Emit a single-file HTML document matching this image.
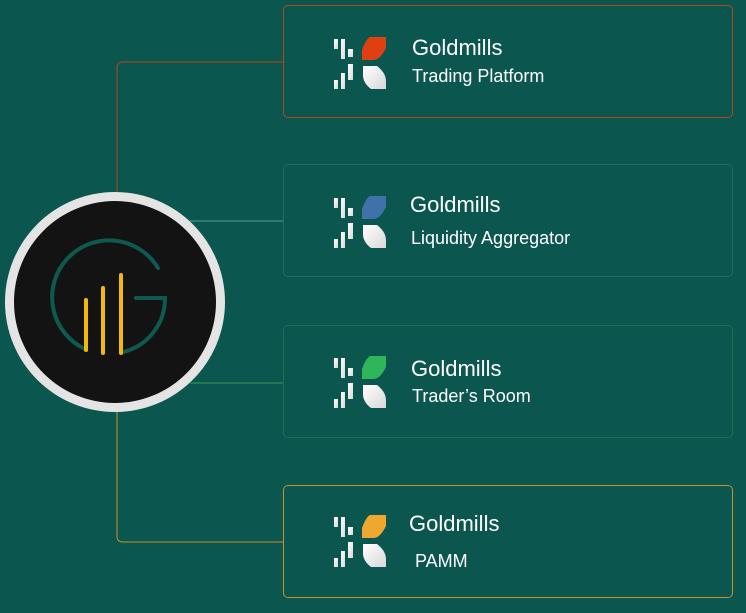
<!DOCTYPE html>
<html><head><style>
html,body{margin:0;padding:0}
body{width:746px;height:613px;background:#0b564e;position:relative;overflow:hidden;font-family:"Liberation Sans",sans-serif}
.box{position:absolute;left:283px;width:450px;height:113px;border:1px solid;border-radius:5px;box-sizing:border-box}
.t{position:absolute;color:#fff;white-space:nowrap}
.g{font-size:22px}
.s{font-size:18px}
svg{position:absolute;left:0;top:0}
</style></head><body>
<svg width="746" height="613">
<defs>
<linearGradient id="w" x1="0" y1="0" x2="1" y2="1"><stop offset="0" stop-color="#fff"/><stop offset="1" stop-color="#d8d8d8"/></linearGradient>
<g id="ic">
<rect x="0" y="2" width="4" height="10" fill="url(#w)"/>
<rect x="7" y="2" width="4" height="20" fill="url(#w)"/>
<rect x="14" y="12" width="5" height="8" fill="url(#w)"/>
<rect x="0" y="43" width="4" height="9" fill="url(#w)"/>
<rect x="7" y="36" width="4" height="16" fill="url(#w)"/>
<rect x="14" y="27" width="5" height="16" fill="url(#w)"/>
<path d="M29,29 H43 Q52,36 52,44 V52 H37 Q29,46 29,38 Z" fill="url(#w)"/>
</g>
</defs>
<g fill="none" stroke-width="1">
<path d="M283,62 H123 Q117,62 117,68 V200" stroke="#b04a1c"/>
<path d="M117,400 V536 Q117,542 123,542 H283" stroke="#c8902a"/>
<path d="M190,221 H283" stroke="#5a9a8a"/>
<path d="M190,383 H283" stroke="#3f9a5a"/>
</g>
<circle cx="115" cy="302" r="110" fill="#e4e4e4"/>
<circle cx="115" cy="302" r="101" fill="#131313"/>
<path d="M85,349 A57,57 0 1 1 158,268" fill="none" stroke="#0f5a4e" stroke-width="4" stroke-linecap="round"/>
<path d="M136,298 H165 A55,55 0 0 1 123,352" fill="none" stroke="#0f5a4e" stroke-width="4" stroke-linecap="round"/>
<g stroke="#f2b90a" stroke-width="4" stroke-linecap="round">
<line x1="86" y1="300" x2="86" y2="350"/>
<line x1="103" y1="288" x2="103" y2="353"/>
<line x1="121" y1="275" x2="121" y2="353"/>
</g>
<use href="#ic" x="334" y="37"/>
<path d="M370,37 H386 V48 Q380,60 374,60 H362 V50 Q366,39 370,37 Z" fill="#df4012"/>
<use href="#ic" x="334" y="196"/>
<path d="M370,196 H386 V207 Q380,219 374,219 H362 V209 Q366,198 370,196 Z" fill="#3f72a8"/>
<use href="#ic" x="334" y="356"/>
<path d="M370,356 H386 V367 Q380,379 374,379 H362 V369 Q366,358 370,356 Z" fill="#2fb55a"/>
<use href="#ic" x="334" y="515"/>
<path d="M370,515 H386 V526 Q380,538 374,538 H362 V528 Q366,517 370,515 Z" fill="#eea830"/>
</svg>
<div class="box" style="top:5px;border-color:#b04a1c"></div>
<div class="box" style="top:164px;border-color:#21705f"></div>
<div class="box" style="top:325px;border-color:#1f7050"></div>
<div class="box" style="top:485px;border-color:#c8902a"></div>
<div class="t g" style="left:412px;top:35px">Goldmills</div>
<div class="t s" style="left:412px;top:66px">Trading Platform</div>
<div class="t g" style="left:410px;top:192px">Goldmills</div>
<div class="t s" style="left:411px;top:228px">Liquidity Aggregator</div>
<div class="t g" style="left:411px;top:356px">Goldmills</div>
<div class="t s" style="left:412px;top:386px">Trader’s Room</div>
<div class="t g" style="left:409px;top:511px">Goldmills</div>
<div class="t s" style="left:415px;top:551px">PAMM</div>
</body></html>
